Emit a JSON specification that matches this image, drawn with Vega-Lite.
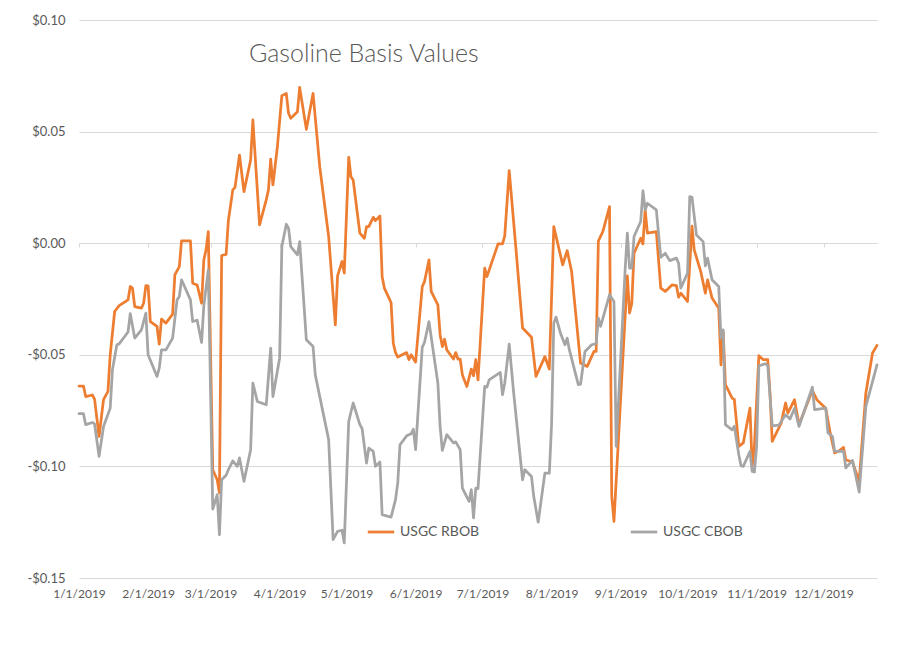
{
"$schema": "https://vega.github.io/schema/vega-lite/v6.json",
"width": 798, "height": 558,
"autosize": {"type": "none"},
"padding": {"left": 79, "top": 20, "right": 31, "bottom": 84},
"background": "white",
"config": {"font": "Lato", "view": {"stroke": null}},
"title": {"text": "Gasoline Basis Values", "anchor": "start", "frame": "group", "orient": "top", "offset": -73, "dx": 170, "fontSize": 25, "fontWeight": 300, "color": "#595959", "font": "Lato", "baseline": "alphabetic"},
"datasets": {
"rbob": [
{"date":"2019-01-01","value":-0.064,"series":"USGC RBOB"},
{"date":"2019-01-03","value":-0.064,"series":"USGC RBOB"},
{"date":"2019-01-04","value":-0.0687,"series":"USGC RBOB"},
{"date":"2019-01-07","value":-0.068,"series":"USGC RBOB"},
{"date":"2019-01-08","value":-0.070,"series":"USGC RBOB"},
{"date":"2019-01-10","value":-0.0866,"series":"USGC RBOB"},
{"date":"2019-01-12","value":-0.0701,"series":"USGC RBOB"},
{"date":"2019-01-14","value":-0.0664,"series":"USGC RBOB"},
{"date":"2019-01-15","value":-0.050,"series":"USGC RBOB"},
{"date":"2019-01-17","value":-0.0306,"series":"USGC RBOB"},
{"date":"2019-01-19","value":-0.028,"series":"USGC RBOB"},
{"date":"2019-01-23","value":-0.0254,"series":"USGC RBOB"},
{"date":"2019-01-24","value":-0.0194,"series":"USGC RBOB"},
{"date":"2019-01-25","value":-0.0201,"series":"USGC RBOB"},
{"date":"2019-01-26","value":-0.0284,"series":"USGC RBOB"},
{"date":"2019-01-29","value":-0.0291,"series":"USGC RBOB"},
{"date":"2019-01-30","value":-0.0269,"series":"USGC RBOB"},
{"date":"2019-01-31","value":-0.019,"series":"USGC RBOB"},
{"date":"2019-02-01","value":-0.0191,"series":"USGC RBOB"},
{"date":"2019-02-02","value":-0.0351,"series":"USGC RBOB"},
{"date":"2019-02-05","value":-0.0373,"series":"USGC RBOB"},
{"date":"2019-02-06","value":-0.0452,"series":"USGC RBOB"},
{"date":"2019-02-07","value":-0.034,"series":"USGC RBOB"},
{"date":"2019-02-09","value":-0.0358,"series":"USGC RBOB"},
{"date":"2019-02-12","value":-0.0318,"series":"USGC RBOB"},
{"date":"2019-02-13","value":-0.0142,"series":"USGC RBOB"},
{"date":"2019-02-15","value":-0.0105,"series":"USGC RBOB"},
{"date":"2019-02-16","value":0.001,"series":"USGC RBOB"},
{"date":"2019-02-20","value":0.001,"series":"USGC RBOB"},
{"date":"2019-02-21","value":-0.0179,"series":"USGC RBOB"},
{"date":"2019-02-23","value":-0.0187,"series":"USGC RBOB"},
{"date":"2019-02-25","value":-0.0269,"series":"USGC RBOB"},
{"date":"2019-02-26","value":-0.0075,"series":"USGC RBOB"},
{"date":"2019-02-27","value":-0.003,"series":"USGC RBOB"},
{"date":"2019-02-28","value":0.0052,"series":"USGC RBOB"},
{"date":"2019-03-02","value":-0.1015,"series":"USGC RBOB"},
{"date":"2019-03-04","value":-0.106,"series":"USGC RBOB"},
{"date":"2019-03-05","value":-0.1119,"series":"USGC RBOB"},
{"date":"2019-03-06","value":-0.0055,"series":"USGC RBOB"},
{"date":"2019-03-08","value":-0.005,"series":"USGC RBOB"},
{"date":"2019-03-09","value":0.0100,"series":"USGC RBOB"},
{"date":"2019-03-11","value":0.0239,"series":"USGC RBOB"},
{"date":"2019-03-12","value":0.0250,"series":"USGC RBOB"},
{"date":"2019-03-14","value":0.0395,"series":"USGC RBOB"},
{"date":"2019-03-16","value":0.0231,"series":"USGC RBOB"},
{"date":"2019-03-19","value":0.0373,"series":"USGC RBOB"},
{"date":"2019-03-20","value":0.0552,"series":"USGC RBOB"},
{"date":"2019-03-23","value":0.0082,"series":"USGC RBOB"},
{"date":"2019-03-26","value":0.0194,"series":"USGC RBOB"},
{"date":"2019-03-27","value":0.0239,"series":"USGC RBOB"},
{"date":"2019-03-28","value":0.0377,"series":"USGC RBOB"},
{"date":"2019-03-29","value":0.0261,"series":"USGC RBOB"},
{"date":"2019-03-31","value":0.0432,"series":"USGC RBOB"},
{"date":"2019-04-02","value":0.0661,"series":"USGC RBOB"},
{"date":"2019-04-04","value":0.0671,"series":"USGC RBOB"},
{"date":"2019-04-05","value":0.0582,"series":"USGC RBOB"},
{"date":"2019-04-06","value":0.056,"series":"USGC RBOB"},
{"date":"2019-04-09","value":0.0589,"series":"USGC RBOB"},
{"date":"2019-04-10","value":0.0698,"series":"USGC RBOB"},
{"date":"2019-04-13","value":0.051,"series":"USGC RBOB"},
{"date":"2019-04-16","value":0.0671,"series":"USGC RBOB"},
{"date":"2019-04-19","value":0.0343,"series":"USGC RBOB"},
{"date":"2019-04-23","value":0.003,"series":"USGC RBOB"},
{"date":"2019-04-26","value":-0.0366,"series":"USGC RBOB"},
{"date":"2019-04-27","value":-0.0146,"series":"USGC RBOB"},
{"date":"2019-04-29","value":-0.0082,"series":"USGC RBOB"},
{"date":"2019-04-30","value":-0.0134,"series":"USGC RBOB"},
{"date":"2019-05-02","value":0.0385,"series":"USGC RBOB"},
{"date":"2019-05-03","value":0.0298,"series":"USGC RBOB"},
{"date":"2019-05-04","value":0.0283,"series":"USGC RBOB"},
{"date":"2019-05-07","value":0.0045,"series":"USGC RBOB"},
{"date":"2019-05-09","value":0.0022,"series":"USGC RBOB"},
{"date":"2019-05-10","value":0.0074,"series":"USGC RBOB"},
{"date":"2019-05-11","value":0.0074,"series":"USGC RBOB"},
{"date":"2019-05-13","value":0.0116,"series":"USGC RBOB"},
{"date":"2019-05-14","value":0.0101,"series":"USGC RBOB"},
{"date":"2019-05-16","value":0.0122,"series":"USGC RBOB"},
{"date":"2019-05-17","value":-0.015,"series":"USGC RBOB"},
{"date":"2019-05-18","value":-0.0201,"series":"USGC RBOB"},
{"date":"2019-05-21","value":-0.0266,"series":"USGC RBOB"},
{"date":"2019-05-22","value":-0.0448,"series":"USGC RBOB"},
{"date":"2019-05-23","value":-0.049,"series":"USGC RBOB"},
{"date":"2019-05-24","value":-0.051,"series":"USGC RBOB"},
{"date":"2019-05-28","value":-0.049,"series":"USGC RBOB"},
{"date":"2019-05-29","value":-0.0522,"series":"USGC RBOB"},
{"date":"2019-05-30","value":-0.050,"series":"USGC RBOB"},
{"date":"2019-06-01","value":-0.0533,"series":"USGC RBOB"},
{"date":"2019-06-04","value":-0.0194,"series":"USGC RBOB"},
{"date":"2019-06-05","value":-0.0172,"series":"USGC RBOB"},
{"date":"2019-06-07","value":-0.0075,"series":"USGC RBOB"},
{"date":"2019-06-08","value":-0.0216,"series":"USGC RBOB"},
{"date":"2019-06-11","value":-0.0276,"series":"USGC RBOB"},
{"date":"2019-06-12","value":-0.041,"series":"USGC RBOB"},
{"date":"2019-06-13","value":-0.0463,"series":"USGC RBOB"},
{"date":"2019-06-14","value":-0.043,"series":"USGC RBOB"},
{"date":"2019-06-15","value":-0.0478,"series":"USGC RBOB"},
{"date":"2019-06-18","value":-0.0519,"series":"USGC RBOB"},
{"date":"2019-06-19","value":-0.049,"series":"USGC RBOB"},
{"date":"2019-06-20","value":-0.0519,"series":"USGC RBOB"},
{"date":"2019-06-21","value":-0.0519,"series":"USGC RBOB"},
{"date":"2019-06-22","value":-0.059,"series":"USGC RBOB"},
{"date":"2019-06-24","value":-0.0642,"series":"USGC RBOB"},
{"date":"2019-06-26","value":-0.0564,"series":"USGC RBOB"},
{"date":"2019-06-27","value":-0.0594,"series":"USGC RBOB"},
{"date":"2019-06-28","value":-0.0522,"series":"USGC RBOB"},
{"date":"2019-06-29","value":-0.0612,"series":"USGC RBOB"},
{"date":"2019-07-02","value":-0.0112,"series":"USGC RBOB"},
{"date":"2019-07-03","value":-0.015,"series":"USGC RBOB"},
{"date":"2019-07-08","value":-0.0003,"series":"USGC RBOB"},
{"date":"2019-07-10","value":-0.0003,"series":"USGC RBOB"},
{"date":"2019-07-11","value":0.0033,"series":"USGC RBOB"},
{"date":"2019-07-13","value":0.0325,"series":"USGC RBOB"},
{"date":"2019-07-16","value":-0.0022,"series":"USGC RBOB"},
{"date":"2019-07-19","value":-0.038,"series":"USGC RBOB"},
{"date":"2019-07-23","value":-0.0421,"series":"USGC RBOB"},
{"date":"2019-07-25","value":-0.0597,"series":"USGC RBOB"},
{"date":"2019-07-29","value":-0.0508,"series":"USGC RBOB"},
{"date":"2019-07-31","value":-0.0564,"series":"USGC RBOB"},
{"date":"2019-08-02","value":0.0074,"series":"USGC RBOB"},
{"date":"2019-08-06","value":-0.0097,"series":"USGC RBOB"},
{"date":"2019-08-08","value":-0.0033,"series":"USGC RBOB"},
{"date":"2019-08-10","value":-0.0127,"series":"USGC RBOB"},
{"date":"2019-08-14","value":-0.0537,"series":"USGC RBOB"},
{"date":"2019-08-17","value":-0.0552,"series":"USGC RBOB"},
{"date":"2019-08-20","value":-0.0485,"series":"USGC RBOB"},
{"date":"2019-08-21","value":-0.0485,"series":"USGC RBOB"},
{"date":"2019-08-22","value":0.001,"series":"USGC RBOB"},
{"date":"2019-08-24","value":0.0052,"series":"USGC RBOB"},
{"date":"2019-08-27","value":0.0164,"series":"USGC RBOB"},
{"date":"2019-08-28","value":-0.1134,"series":"USGC RBOB"},
{"date":"2019-08-29","value":-0.1246,"series":"USGC RBOB"},
{"date":"2019-09-04","value":-0.0146,"series":"USGC RBOB"},
{"date":"2019-09-05","value":-0.0313,"series":"USGC RBOB"},
{"date":"2019-09-06","value":-0.0269,"series":"USGC RBOB"},
{"date":"2019-09-07","value":-0.0045,"series":"USGC RBOB"},
{"date":"2019-09-10","value":0.0022,"series":"USGC RBOB"},
{"date":"2019-09-11","value":-0.0003,"series":"USGC RBOB"},
{"date":"2019-09-12","value":0.0149,"series":"USGC RBOB"},
{"date":"2019-09-13","value":0.0045,"series":"USGC RBOB"},
{"date":"2019-09-17","value":0.0052,"series":"USGC RBOB"},
{"date":"2019-09-19","value":-0.0201,"series":"USGC RBOB"},
{"date":"2019-09-21","value":-0.0216,"series":"USGC RBOB"},
{"date":"2019-09-24","value":-0.0187,"series":"USGC RBOB"},
{"date":"2019-09-26","value":-0.019,"series":"USGC RBOB"},
{"date":"2019-09-27","value":-0.0242,"series":"USGC RBOB"},
{"date":"2019-09-28","value":-0.0224,"series":"USGC RBOB"},
{"date":"2019-10-01","value":-0.0261,"series":"USGC RBOB"},
{"date":"2019-10-03","value":0.0077,"series":"USGC RBOB"},
{"date":"2019-10-04","value":-0.003,"series":"USGC RBOB"},
{"date":"2019-10-07","value":-0.013,"series":"USGC RBOB"},
{"date":"2019-10-09","value":-0.0224,"series":"USGC RBOB"},
{"date":"2019-10-10","value":-0.0164,"series":"USGC RBOB"},
{"date":"2019-10-12","value":-0.0246,"series":"USGC RBOB"},
{"date":"2019-10-15","value":-0.0291,"series":"USGC RBOB"},
{"date":"2019-10-16","value":-0.0545,"series":"USGC RBOB"},
{"date":"2019-10-17","value":-0.040,"series":"USGC RBOB"},
{"date":"2019-10-18","value":-0.0634,"series":"USGC RBOB"},
{"date":"2019-10-21","value":-0.0694,"series":"USGC RBOB"},
{"date":"2019-10-22","value":-0.070,"series":"USGC RBOB"},
{"date":"2019-10-24","value":-0.091,"series":"USGC RBOB"},
{"date":"2019-10-26","value":-0.0895,"series":"USGC RBOB"},
{"date":"2019-10-29","value":-0.0739,"series":"USGC RBOB"},
{"date":"2019-10-30","value":-0.100,"series":"USGC RBOB"},
{"date":"2019-10-31","value":-0.091,"series":"USGC RBOB"},
{"date":"2019-11-02","value":-0.0504,"series":"USGC RBOB"},
{"date":"2019-11-04","value":-0.0522,"series":"USGC RBOB"},
{"date":"2019-11-06","value":-0.0522,"series":"USGC RBOB"},
{"date":"2019-11-07","value":-0.0671,"series":"USGC RBOB"},
{"date":"2019-11-08","value":-0.0888,"series":"USGC RBOB"},
{"date":"2019-11-12","value":-0.0806,"series":"USGC RBOB"},
{"date":"2019-11-14","value":-0.0716,"series":"USGC RBOB"},
{"date":"2019-11-15","value":-0.0761,"series":"USGC RBOB"},
{"date":"2019-11-18","value":-0.0701,"series":"USGC RBOB"},
{"date":"2019-11-20","value":-0.0813,"series":"USGC RBOB"},
{"date":"2019-11-26","value":-0.066,"series":"USGC RBOB"},
{"date":"2019-11-28","value":-0.0701,"series":"USGC RBOB"},
{"date":"2019-12-02","value":-0.0739,"series":"USGC RBOB"},
{"date":"2019-12-04","value":-0.085,"series":"USGC RBOB"},
{"date":"2019-12-06","value":-0.094,"series":"USGC RBOB"},
{"date":"2019-12-08","value":-0.093,"series":"USGC RBOB"},
{"date":"2019-12-10","value":-0.0915,"series":"USGC RBOB"},
{"date":"2019-12-11","value":-0.097,"series":"USGC RBOB"},
{"date":"2019-12-14","value":-0.098,"series":"USGC RBOB"},
{"date":"2019-12-17","value":-0.1067,"series":"USGC RBOB"},
{"date":"2019-12-20","value":-0.0671,"series":"USGC RBOB"},
{"date":"2019-12-23","value":-0.0492,"series":"USGC RBOB"},
{"date":"2019-12-25","value":-0.0458,"series":"USGC RBOB"}
],
"cbob": [
{"date":"2019-01-01","value":-0.0764,"series":"USGC CBOB"},
{"date":"2019-01-03","value":-0.0764,"series":"USGC CBOB"},
{"date":"2019-01-04","value":-0.0813,"series":"USGC CBOB"},
{"date":"2019-01-07","value":-0.0803,"series":"USGC CBOB"},
{"date":"2019-01-08","value":-0.081,"series":"USGC CBOB"},
{"date":"2019-01-10","value":-0.0955,"series":"USGC CBOB"},
{"date":"2019-01-12","value":-0.0821,"series":"USGC CBOB"},
{"date":"2019-01-15","value":-0.0739,"series":"USGC CBOB"},
{"date":"2019-01-16","value":-0.0567,"series":"USGC CBOB"},
{"date":"2019-01-18","value":-0.0455,"series":"USGC CBOB"},
{"date":"2019-01-19","value":-0.0451,"series":"USGC CBOB"},
{"date":"2019-01-23","value":-0.0398,"series":"USGC CBOB"},
{"date":"2019-01-24","value":-0.0316,"series":"USGC CBOB"},
{"date":"2019-01-26","value":-0.0425,"series":"USGC CBOB"},
{"date":"2019-01-29","value":-0.0388,"series":"USGC CBOB"},
{"date":"2019-01-31","value":-0.0313,"series":"USGC CBOB"},
{"date":"2019-02-01","value":-0.050,"series":"USGC CBOB"},
{"date":"2019-02-05","value":-0.0597,"series":"USGC CBOB"},
{"date":"2019-02-06","value":-0.056,"series":"USGC CBOB"},
{"date":"2019-02-07","value":-0.0478,"series":"USGC CBOB"},
{"date":"2019-02-09","value":-0.0478,"series":"USGC CBOB"},
{"date":"2019-02-12","value":-0.0425,"series":"USGC CBOB"},
{"date":"2019-02-14","value":-0.0254,"series":"USGC CBOB"},
{"date":"2019-02-15","value":-0.0239,"series":"USGC CBOB"},
{"date":"2019-02-16","value":-0.0164,"series":"USGC CBOB"},
{"date":"2019-02-20","value":-0.0254,"series":"USGC CBOB"},
{"date":"2019-02-21","value":-0.0351,"series":"USGC CBOB"},
{"date":"2019-02-23","value":-0.0345,"series":"USGC CBOB"},
{"date":"2019-02-25","value":-0.0445,"series":"USGC CBOB"},
{"date":"2019-02-26","value":-0.028,"series":"USGC CBOB"},
{"date":"2019-02-28","value":-0.012,"series":"USGC CBOB"},
{"date":"2019-03-02","value":-0.1191,"series":"USGC CBOB"},
{"date":"2019-03-04","value":-0.1127,"series":"USGC CBOB"},
{"date":"2019-03-05","value":-0.1306,"series":"USGC CBOB"},
{"date":"2019-03-06","value":-0.106,"series":"USGC CBOB"},
{"date":"2019-03-08","value":-0.104,"series":"USGC CBOB"},
{"date":"2019-03-09","value":-0.1015,"series":"USGC CBOB"},
{"date":"2019-03-11","value":-0.0975,"series":"USGC CBOB"},
{"date":"2019-03-13","value":-0.100,"series":"USGC CBOB"},
{"date":"2019-03-14","value":-0.0962,"series":"USGC CBOB"},
{"date":"2019-03-16","value":-0.1067,"series":"USGC CBOB"},
{"date":"2019-03-19","value":-0.0925,"series":"USGC CBOB"},
{"date":"2019-03-20","value":-0.0627,"series":"USGC CBOB"},
{"date":"2019-03-22","value":-0.0709,"series":"USGC CBOB"},
{"date":"2019-03-26","value":-0.0724,"series":"USGC CBOB"},
{"date":"2019-03-28","value":-0.047,"series":"USGC CBOB"},
{"date":"2019-03-29","value":-0.0687,"series":"USGC CBOB"},
{"date":"2019-04-01","value":-0.0515,"series":"USGC CBOB"},
{"date":"2019-04-02","value":-0.0015,"series":"USGC CBOB"},
{"date":"2019-04-04","value":0.0085,"series":"USGC CBOB"},
{"date":"2019-04-05","value":0.0067,"series":"USGC CBOB"},
{"date":"2019-04-06","value":-0.0015,"series":"USGC CBOB"},
{"date":"2019-04-09","value":-0.0052,"series":"USGC CBOB"},
{"date":"2019-04-10","value":0.0007,"series":"USGC CBOB"},
{"date":"2019-04-13","value":-0.0433,"series":"USGC CBOB"},
{"date":"2019-04-16","value":-0.0463,"series":"USGC CBOB"},
{"date":"2019-04-17","value":-0.059,"series":"USGC CBOB"},
{"date":"2019-04-23","value":-0.088,"series":"USGC CBOB"},
{"date":"2019-04-25","value":-0.1328,"series":"USGC CBOB"},
{"date":"2019-04-27","value":-0.1291,"series":"USGC CBOB"},
{"date":"2019-04-29","value":-0.1286,"series":"USGC CBOB"},
{"date":"2019-04-30","value":-0.1343,"series":"USGC CBOB"},
{"date":"2019-05-02","value":-0.0799,"series":"USGC CBOB"},
{"date":"2019-05-04","value":-0.0716,"series":"USGC CBOB"},
{"date":"2019-05-07","value":-0.0813,"series":"USGC CBOB"},
{"date":"2019-05-08","value":-0.083,"series":"USGC CBOB"},
{"date":"2019-05-10","value":-0.0985,"series":"USGC CBOB"},
{"date":"2019-05-11","value":-0.0918,"series":"USGC CBOB"},
{"date":"2019-05-13","value":-0.0933,"series":"USGC CBOB"},
{"date":"2019-05-14","value":-0.100,"series":"USGC CBOB"},
{"date":"2019-05-16","value":-0.098,"series":"USGC CBOB"},
{"date":"2019-05-17","value":-0.1216,"series":"USGC CBOB"},
{"date":"2019-05-21","value":-0.1227,"series":"USGC CBOB"},
{"date":"2019-05-23","value":-0.1149,"series":"USGC CBOB"},
{"date":"2019-05-24","value":-0.1074,"series":"USGC CBOB"},
{"date":"2019-05-25","value":-0.0903,"series":"USGC CBOB"},
{"date":"2019-05-28","value":-0.0863,"series":"USGC CBOB"},
{"date":"2019-05-30","value":-0.0854,"series":"USGC CBOB"},
{"date":"2019-05-31","value":-0.0833,"series":"USGC CBOB"},
{"date":"2019-06-01","value":-0.0925,"series":"USGC CBOB"},
{"date":"2019-06-04","value":-0.0466,"series":"USGC CBOB"},
{"date":"2019-06-05","value":-0.0445,"series":"USGC CBOB"},
{"date":"2019-06-07","value":-0.0351,"series":"USGC CBOB"},
{"date":"2019-06-11","value":-0.0627,"series":"USGC CBOB"},
{"date":"2019-06-12","value":-0.0821,"series":"USGC CBOB"},
{"date":"2019-06-13","value":-0.0928,"series":"USGC CBOB"},
{"date":"2019-06-15","value":-0.0858,"series":"USGC CBOB"},
{"date":"2019-06-18","value":-0.0895,"series":"USGC CBOB"},
{"date":"2019-06-19","value":-0.089,"series":"USGC CBOB"},
{"date":"2019-06-21","value":-0.0925,"series":"USGC CBOB"},
{"date":"2019-06-22","value":-0.1097,"series":"USGC CBOB"},
{"date":"2019-06-25","value":-0.1157,"series":"USGC CBOB"},
{"date":"2019-06-26","value":-0.1104,"series":"USGC CBOB"},
{"date":"2019-06-27","value":-0.1231,"series":"USGC CBOB"},
{"date":"2019-06-28","value":-0.1097,"series":"USGC CBOB"},
{"date":"2019-06-29","value":-0.110,"series":"USGC CBOB"},
{"date":"2019-07-02","value":-0.0642,"series":"USGC CBOB"},
{"date":"2019-07-03","value":-0.0645,"series":"USGC CBOB"},
{"date":"2019-07-04","value":-0.0612,"series":"USGC CBOB"},
{"date":"2019-07-09","value":-0.0579,"series":"USGC CBOB"},
{"date":"2019-07-10","value":-0.0679,"series":"USGC CBOB"},
{"date":"2019-07-11","value":-0.0627,"series":"USGC CBOB"},
{"date":"2019-07-13","value":-0.0452,"series":"USGC CBOB"},
{"date":"2019-07-15","value":-0.0671,"series":"USGC CBOB"},
{"date":"2019-07-19","value":-0.106,"series":"USGC CBOB"},
{"date":"2019-07-20","value":-0.1015,"series":"USGC CBOB"},
{"date":"2019-07-23","value":-0.1045,"series":"USGC CBOB"},
{"date":"2019-07-24","value":-0.1134,"series":"USGC CBOB"},
{"date":"2019-07-26","value":-0.125,"series":"USGC CBOB"},
{"date":"2019-07-29","value":-0.103,"series":"USGC CBOB"},
{"date":"2019-07-31","value":-0.103,"series":"USGC CBOB"},
{"date":"2019-08-01","value":-0.0813,"series":"USGC CBOB"},
{"date":"2019-08-02","value":-0.0358,"series":"USGC CBOB"},
{"date":"2019-08-03","value":-0.0331,"series":"USGC CBOB"},
{"date":"2019-08-05","value":-0.0403,"series":"USGC CBOB"},
{"date":"2019-08-07","value":-0.0455,"series":"USGC CBOB"},
{"date":"2019-08-08","value":-0.0425,"series":"USGC CBOB"},
{"date":"2019-08-09","value":-0.0478,"series":"USGC CBOB"},
{"date":"2019-08-13","value":-0.0634,"series":"USGC CBOB"},
{"date":"2019-08-14","value":-0.0632,"series":"USGC CBOB"},
{"date":"2019-08-16","value":-0.0485,"series":"USGC CBOB"},
{"date":"2019-08-19","value":-0.0455,"series":"USGC CBOB"},
{"date":"2019-08-21","value":-0.045,"series":"USGC CBOB"},
{"date":"2019-08-22","value":-0.0336,"series":"USGC CBOB"},
{"date":"2019-08-23","value":-0.0373,"series":"USGC CBOB"},
{"date":"2019-08-27","value":-0.0231,"series":"USGC CBOB"},
{"date":"2019-08-29","value":-0.0261,"series":"USGC CBOB"},
{"date":"2019-08-30","value":-0.091,"series":"USGC CBOB"},
{"date":"2019-09-03","value":-0.012,"series":"USGC CBOB"},
{"date":"2019-09-04","value":0.0045,"series":"USGC CBOB"},
{"date":"2019-09-05","value":-0.0112,"series":"USGC CBOB"},
{"date":"2019-09-06","value":-0.0112,"series":"USGC CBOB"},
{"date":"2019-09-07","value":0.003,"series":"USGC CBOB"},
{"date":"2019-09-10","value":0.0097,"series":"USGC CBOB"},
{"date":"2019-09-11","value":0.0235,"series":"USGC CBOB"},
{"date":"2019-09-12","value":0.0149,"series":"USGC CBOB"},
{"date":"2019-09-13","value":0.0179,"series":"USGC CBOB"},
{"date":"2019-09-17","value":0.0149,"series":"USGC CBOB"},
{"date":"2019-09-19","value":-0.0063,"series":"USGC CBOB"},
{"date":"2019-09-21","value":-0.0045,"series":"USGC CBOB"},
{"date":"2019-09-23","value":-0.0078,"series":"USGC CBOB"},
{"date":"2019-09-26","value":-0.0067,"series":"USGC CBOB"},
{"date":"2019-09-27","value":-0.009,"series":"USGC CBOB"},
{"date":"2019-09-28","value":-0.0201,"series":"USGC CBOB"},
{"date":"2019-10-01","value":-0.0134,"series":"USGC CBOB"},
{"date":"2019-10-02","value":0.0209,"series":"USGC CBOB"},
{"date":"2019-10-03","value":0.0206,"series":"USGC CBOB"},
{"date":"2019-10-05","value":0.0037,"series":"USGC CBOB"},
{"date":"2019-10-08","value":0.0007,"series":"USGC CBOB"},
{"date":"2019-10-09","value":-0.0102,"series":"USGC CBOB"},
{"date":"2019-10-10","value":-0.0067,"series":"USGC CBOB"},
{"date":"2019-10-12","value":-0.0164,"series":"USGC CBOB"},
{"date":"2019-10-15","value":-0.0194,"series":"USGC CBOB"},
{"date":"2019-10-16","value":-0.0425,"series":"USGC CBOB"},
{"date":"2019-10-17","value":-0.0388,"series":"USGC CBOB"},
{"date":"2019-10-18","value":-0.0813,"series":"USGC CBOB"},
{"date":"2019-10-21","value":-0.0836,"series":"USGC CBOB"},
{"date":"2019-10-22","value":-0.082,"series":"USGC CBOB"},
{"date":"2019-10-24","value":-0.0948,"series":"USGC CBOB"},
{"date":"2019-10-25","value":-0.0997,"series":"USGC CBOB"},
{"date":"2019-10-26","value":-0.100,"series":"USGC CBOB"},
{"date":"2019-10-29","value":-0.0933,"series":"USGC CBOB"},
{"date":"2019-10-30","value":-0.1022,"series":"USGC CBOB"},
{"date":"2019-10-31","value":-0.1025,"series":"USGC CBOB"},
{"date":"2019-11-01","value":-0.091,"series":"USGC CBOB"},
{"date":"2019-11-02","value":-0.0549,"series":"USGC CBOB"},
{"date":"2019-11-05","value":-0.054,"series":"USGC CBOB"},
{"date":"2019-11-06","value":-0.0549,"series":"USGC CBOB"},
{"date":"2019-11-08","value":-0.0818,"series":"USGC CBOB"},
{"date":"2019-11-11","value":-0.0815,"series":"USGC CBOB"},
{"date":"2019-11-14","value":-0.0769,"series":"USGC CBOB"},
{"date":"2019-11-16","value":-0.0788,"series":"USGC CBOB"},
{"date":"2019-11-18","value":-0.0739,"series":"USGC CBOB"},
{"date":"2019-11-20","value":-0.0821,"series":"USGC CBOB"},
{"date":"2019-11-26","value":-0.0645,"series":"USGC CBOB"},
{"date":"2019-11-27","value":-0.0746,"series":"USGC CBOB"},
{"date":"2019-12-02","value":-0.0739,"series":"USGC CBOB"},
{"date":"2019-12-03","value":-0.085,"series":"USGC CBOB"},
{"date":"2019-12-05","value":-0.0865,"series":"USGC CBOB"},
{"date":"2019-12-06","value":-0.0933,"series":"USGC CBOB"},
{"date":"2019-12-10","value":-0.0932,"series":"USGC CBOB"},
{"date":"2019-12-11","value":-0.1007,"series":"USGC CBOB"},
{"date":"2019-12-14","value":-0.0973,"series":"USGC CBOB"},
{"date":"2019-12-17","value":-0.1115,"series":"USGC CBOB"},
{"date":"2019-12-20","value":-0.0731,"series":"USGC CBOB"},
{"date":"2019-12-25","value":-0.0545,"series":"USGC CBOB"}
]
},
"encoding": {
  "x": {"field": "date", "type": "temporal",
        "scale": {"domain": [{"year": 2019, "month": 1, "date": 1}, {"year": 2019, "month": 12, "date": 25}], "nice": false},
        "axis": {"orient": "bottom", "title": null, "grid": false, "domain": false, "ticks": false, "labelPadding": 10, "labelFlush": false, "format": "%-m/%-d/%Y", "labelFontSize": 12, "labelColor": "#595959", "labelFont": "Lato", "labelOverlap": false,
                 "values": [{"year":2019,"month":1,"date":1},{"year":2019,"month":2,"date":1},{"year":2019,"month":3,"date":1},{"year":2019,"month":4,"date":1},{"year":2019,"month":5,"date":1},{"year":2019,"month":6,"date":1},{"year":2019,"month":7,"date":1},{"year":2019,"month":8,"date":1},{"year":2019,"month":9,"date":1},{"year":2019,"month":10,"date":1},{"year":2019,"month":11,"date":1},{"year":2019,"month":12,"date":1}]}},
  "y": {"field": "value", "type": "quantitative",
        "scale": {"domain": [-0.15, 0.1], "nice": false, "zero": false},
        "axis": {"title": null, "values": [-0.15, -0.1, -0.05, 0, 0.05, 0.1], "grid": true, "gridColor": "#d9d9d9", "gridWidth": 1, "domain": false, "ticks": false, "labelPadding": 14, "labelFontSize": 13, "labelColor": "#595959", "labelFont": "Lato",
                 "labelExpr": "(datum.value < -0.0001 ? '-' : '') + '$' + format(abs(datum.value), '.2f')"}},
  "color": {"field": "series", "type": "nominal",
            "scale": {"domain": ["USGC RBOB", "USGC CBOB"], "range": ["#ED7D31", "#A5A5A5"]},
            "legend": {"orient": "none", "legendX": 287, "legendY": 497, "direction": "horizontal", "title": null, "padding": 0,
                       "symbolType": "stroke", "symbolSize": 700, "symbolStrokeWidth": 2.75, "labelFontSize": 14, "labelColor": "#595959", "labelFont": "Lato", "labelOffset": 4, "columnPadding": 145}}
},
"layer": [
  {"data": {"name": "rbob"}, "mark": {"type": "line", "strokeWidth": 2.75, "strokeJoin": "round", "strokeCap": "round"}},
  {"data": {"name": "cbob"}, "mark": {"type": "line", "strokeWidth": 2.75, "strokeJoin": "round", "strokeCap": "round"},
   "encoding": {
     "x": {"field": "date", "type": "temporal",
           "scale": {"domain": [{"year": 2019, "month": 1, "date": 1}, {"year": 2019, "month": 12, "date": 25}], "nice": false},
           "axis": {"orient": "bottom", "offset": -335, "title": null, "grid": false, "labels": false, "domain": true, "domainColor": "#d9d9d9", "domainWidth": 1, "ticks": true, "tickColor": "#d9d9d9", "tickSize": 4,
                    "values": [{"year":2019,"month":1,"date":1},{"year":2019,"month":2,"date":1},{"year":2019,"month":3,"date":1},{"year":2019,"month":4,"date":1},{"year":2019,"month":5,"date":1},{"year":2019,"month":6,"date":1},{"year":2019,"month":7,"date":1},{"year":2019,"month":8,"date":1},{"year":2019,"month":9,"date":1},{"year":2019,"month":10,"date":1},{"year":2019,"month":11,"date":1},{"year":2019,"month":12,"date":1}]}}
   }}
],
"resolve": {"axis": {"x": "independent"}}
}
